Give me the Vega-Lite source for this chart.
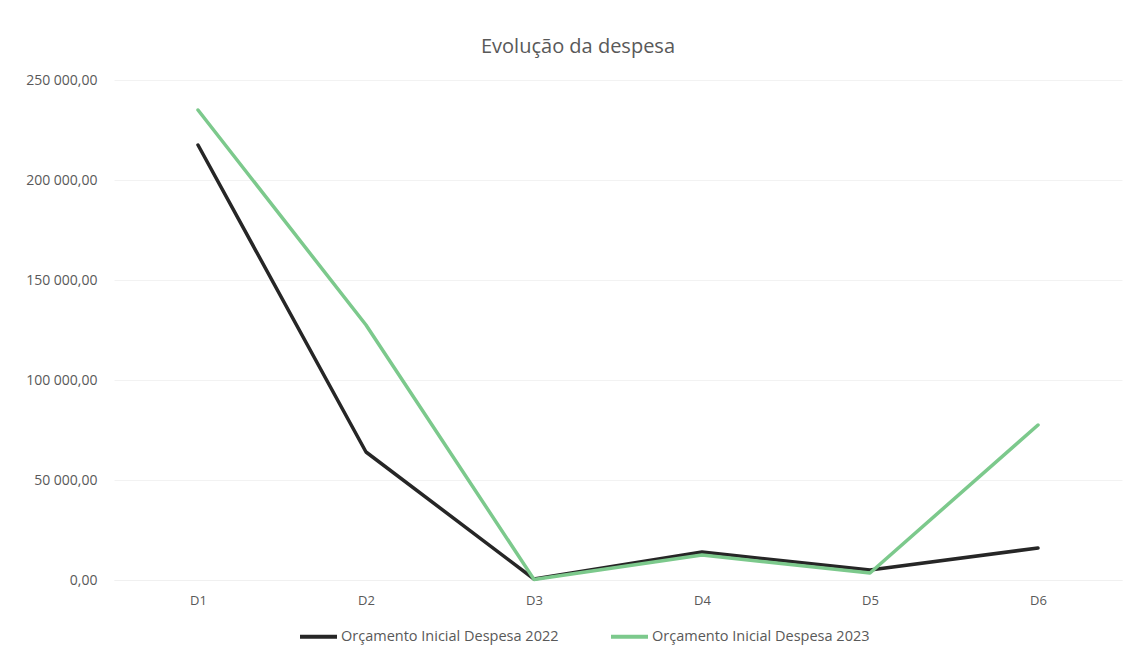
{
  "$schema": "https://vega.github.io/schema/vega-lite/v6.json",
  "width": 1008,
  "height": 500,
  "autosize": {"type": "none"},
  "padding": {"left": 114, "top": 80, "right": 4, "bottom": 76},
  "background": "white",
  "title": {
    "text": "Evolução da despesa",
    "fontSize": 20,
    "font": "Open Sans",
    "fontWeight": "normal",
    "color": "#595959",
    "anchor": "middle",
    "dx": -40,
    "offset": 16
  },
  "data": {
    "values": [
      {"d": "D1", "serie": "Orçamento Inicial  Despesa 2022", "valor": 217500},
      {"d": "D2", "serie": "Orçamento Inicial  Despesa 2022", "valor": 64000},
      {"d": "D3", "serie": "Orçamento Inicial  Despesa 2022", "valor": 500},
      {"d": "D4", "serie": "Orçamento Inicial  Despesa 2022", "valor": 14000},
      {"d": "D5", "serie": "Orçamento Inicial  Despesa 2022", "valor": 5000},
      {"d": "D6", "serie": "Orçamento Inicial  Despesa 2022", "valor": 16000},
      {"d": "D1", "serie": "Orçamento Inicial  Despesa 2023", "valor": 235000},
      {"d": "D2", "serie": "Orçamento Inicial  Despesa 2023", "valor": 127500},
      {"d": "D3", "serie": "Orçamento Inicial  Despesa 2023", "valor": 300},
      {"d": "D4", "serie": "Orçamento Inicial  Despesa 2023", "valor": 12500},
      {"d": "D5", "serie": "Orçamento Inicial  Despesa 2023", "valor": 3500},
      {"d": "D6", "serie": "Orçamento Inicial  Despesa 2023", "valor": 77500}
    ]
  },
  "mark": {"type": "line", "strokeWidth": 3.5, "strokeCap": "round", "strokeJoin": "round"},
  "encoding": {
    "x": {
      "field": "d",
      "type": "ordinal",
      "scale": {"type": "point", "padding": 0.5},
      "axis": {
        "title": null,
        "labelAngle": 0,
        "labelFont": "Open Sans",
        "labelFontSize": 13,
        "labelColor": "#595959",
        "labelPadding": 14,
        "ticks": false,
        "domainColor": "#f0f0f0",
        "grid": false
      }
    },
    "y": {
      "field": "valor",
      "type": "quantitative",
      "scale": {"domain": [0, 250000], "nice": false},
      "axis": {
        "title": null,
        "values": [0, 50000, 100000, 150000, 200000, 250000],
        "format": ",.2f",
        "labelFont": "Open Sans",
        "labelFontSize": 14,
        "labelColor": "#595959",
        "labelPadding": 17,
        "ticks": false,
        "domain": false,
        "gridColor": "#f2f2f2",
        "gridWidth": 1
      }
    },
    "color": {
      "field": "serie",
      "type": "nominal",
      "scale": {
        "domain": ["Orçamento Inicial  Despesa 2022", "Orçamento Inicial  Despesa 2023"],
        "range": ["#262626", "#7cc98c"]
      },
      "legend": {
        "title": null,
        "orient": "none",
        "legendX": 184,
        "legendY": 536,
        "direction": "horizontal",
        "symbolType": "stroke",
        "symbolSize": 1369,
        "symbolStrokeWidth": 4,
        "labelFont": "Open Sans",
        "labelFontSize": 14.5,
        "labelLimit": 0,
        "labelColor": "#595959",
        "labelOffset": 2,
        "columnPadding": 40
      }
    }
  },
  "config": {
    "view": {"stroke": null},
    "locale": {
      "number": {
        "decimal": ",",
        "thousands": " ",
        "grouping": [3],
        "currency": ["", " €"]
      }
    }
  }
}
